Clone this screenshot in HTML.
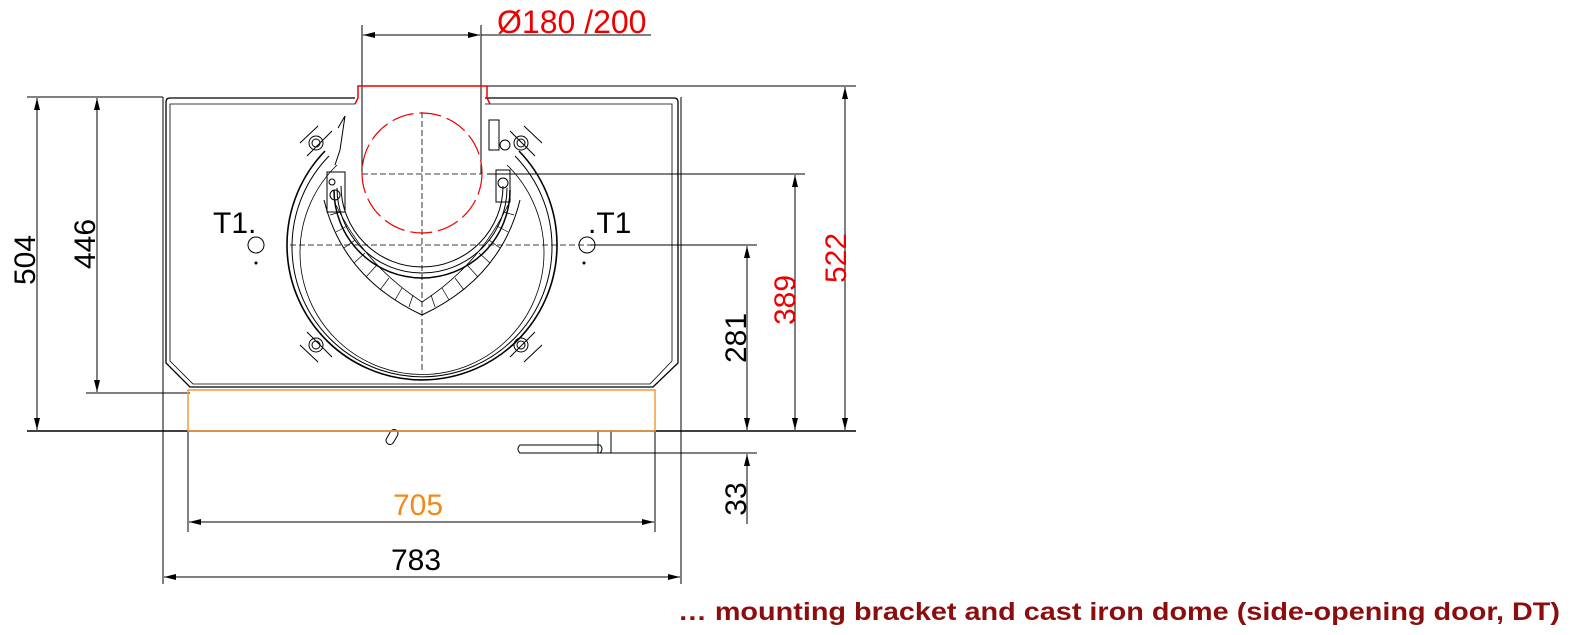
<!DOCTYPE html>
<html><head><meta charset="utf-8"><style>
html,body{margin:0;padding:0;background:#fff;width:1586px;height:635px;overflow:hidden}
svg{display:block}
text{font-family:"Liberation Sans",Arial,sans-serif}
</style></head><body>
<svg width="1586" height="635" viewBox="0 0 1586 635" xmlns="http://www.w3.org/2000/svg">
<defs>
<marker id="a" viewBox="0 0 12 6" refX="12" refY="3" markerWidth="12" markerHeight="6" orient="auto" markerUnits="userSpaceOnUse"><path d="M0,0 L12,3 L0,6 z" fill="#000"/></marker>
<marker id="as" viewBox="0 0 12 6" refX="0" refY="3" markerWidth="12" markerHeight="6" orient="auto" markerUnits="userSpaceOnUse"><path d="M12,0 L0,3 L12,6 z" fill="#000"/></marker>
</defs>
<g stroke="#000" stroke-width="1" fill="none">
<line x1="27" y1="97" x2="163" y2="97"/>
<line x1="86" y1="393" x2="190" y2="393"/>
<line x1="27" y1="431" x2="856" y2="431" stroke-width="1.5"/>
<line x1="487" y1="86" x2="856" y2="86"/>
<line x1="487" y1="174" x2="805" y2="174"/>
<line x1="590" y1="245" x2="757" y2="245"/>
<line x1="520" y1="453" x2="757" y2="453"/>
<line x1="163" y1="97" x2="163" y2="584"/>
<line x1="681" y1="97" x2="681" y2="584"/>
<line x1="188" y1="431" x2="188" y2="532"/>
<line x1="655" y1="431" x2="655" y2="532"/>
<line x1="362" y1="25" x2="362" y2="174"/>
<line x1="481" y1="25" x2="481" y2="174"/>
<line x1="37" y1="98" x2="37" y2="430" marker-start="url(#as)" marker-end="url(#a)"/>
<line x1="97" y1="98" x2="97" y2="392" marker-start="url(#as)" marker-end="url(#a)"/>
<line x1="845" y1="87" x2="845" y2="430" marker-start="url(#as)" marker-end="url(#a)"/>
<line x1="795" y1="175" x2="795" y2="430" marker-start="url(#as)" marker-end="url(#a)"/>
<line x1="747" y1="246" x2="747" y2="430" marker-start="url(#as)" marker-end="url(#a)"/>
<line x1="747" y1="454" x2="747" y2="524" marker-start="url(#as)"/>
<line x1="189" y1="522" x2="654" y2="522" marker-start="url(#as)" marker-end="url(#a)"/>
<line x1="164" y1="577" x2="680" y2="577" marker-start="url(#as)" marker-end="url(#a)"/>
<line x1="363" y1="35" x2="480" y2="35" marker-start="url(#as)" marker-end="url(#a)"/>
<line x1="481" y1="35" x2="651" y2="35"/>
<!-- box -->
<path d="M355,98 L170,98 Q166,98 166,102 L166,363 L190,387 L653,387 L678,363 L678,102 Q678,98 674,98 L485,98" stroke-width="1.3"/>
<path d="M355,104 L170,104 L170,361 L193,384 L650,384 L672,361 L672,104 L485,104" stroke-width="0.8"/>
<path d="M520,445 L600,445 Q604,449 600,453 L520,453 Q516,449 520,445 Z"/>
<line x1="598" y1="431" x2="598" y2="453"/><line x1="611" y1="431" x2="611" y2="453"/>
<g transform="translate(392,437) rotate(-60)"><rect x="-8" y="-4" width="16" height="8" rx="4"/></g>
<path d="M325,151 A135,135 0 1 0 519,151" stroke-width="1.6"/>
<path d="M329,156 A130,130 0 1 0 515,156" stroke-width="1"/>
<path d="M337,165 A122,122 0 1 0 507,165" stroke-width="0.8"/>
<path d="M334,190 A88,88 0 0 0 510,190" stroke-width="1.5"/>
<path d="M337,188 A85,85 0 0 0 507,188" stroke-width="1"/>
<path d="M341,186 A81,81 0 0 0 503,186" stroke-width="1"/>
<path d="M324,200 Q343,278 422,315 Q501,278 520,200" stroke-width="1"/>
<path d="M336,205 Q365,265 422,302 Q479,265 508,205" stroke-width="0.8"/>
<g stroke-width="0.7">
<line x1="330" y1="215" x2="340" y2="212"/><line x1="336" y1="232" x2="347" y2="226"/><line x1="344" y1="248" x2="355" y2="240"/><line x1="354" y1="263" x2="365" y2="253"/><line x1="366" y1="277" x2="376" y2="266"/><line x1="380" y1="290" x2="389" y2="278"/><line x1="395" y1="300" x2="402" y2="288"/><line x1="409" y1="307" x2="413" y2="295"/>
<line x1="514" y1="215" x2="504" y2="212"/><line x1="508" y1="232" x2="497" y2="226"/><line x1="500" y1="248" x2="489" y2="240"/><line x1="490" y1="263" x2="479" y2="253"/><line x1="478" y1="277" x2="468" y2="266"/><line x1="464" y1="290" x2="455" y2="278"/><line x1="449" y1="300" x2="442" y2="288"/><line x1="435" y1="307" x2="431" y2="295"/>
</g>
<g stroke-width="1">
<circle cx="316" cy="143" r="7"/><circle cx="316" cy="143" r="4"/><line x1="300" y1="143" x2="318" y2="126"/><line x1="307" y1="156" x2="332" y2="131"/>
<circle cx="521" cy="143" r="7"/><circle cx="521" cy="143" r="4"/><line x1="542" y1="143" x2="524" y2="126"/><line x1="535" y1="156" x2="510" y2="131"/>
<circle cx="316" cy="345" r="7"/><circle cx="316" cy="345" r="4"/><line x1="300" y1="345" x2="318" y2="362"/><line x1="307" y1="332" x2="332" y2="357"/>
<circle cx="521" cy="345" r="7"/><circle cx="521" cy="345" r="4"/><line x1="542" y1="345" x2="524" y2="362"/><line x1="535" y1="332" x2="510" y2="357"/>
<rect x="327" y="172" width="18" height="40"/><circle cx="335" cy="195" r="5"/><circle cx="332" cy="182" r="3"/>
<rect x="496" y="170" width="14" height="32"/><circle cx="503" cy="183" r="5"/>
<rect x="489" y="120" width="10" height="30"/><circle cx="505" cy="145" r="5"/>
<path d="M338,128 L345,116 L340,150 L335,165"/>
</g>
<circle cx="256" cy="245" r="8"/><circle cx="587" cy="245" r="8"/>
<g stroke-dasharray="6,3" stroke-width="0.8">
<line x1="422" y1="112" x2="422" y2="370"/>
<line x1="290" y1="245" x2="590" y2="245"/>
<line x1="362" y1="174" x2="481" y2="174"/>
</g>
</g>
<g fill="#000"><circle cx="256" cy="263" r="1.5"/><circle cx="584" cy="263" r="1.5"/></g>
<path d="M355,104 L358,98 L358,86 L487,86 L487,98 L490,104" stroke="#e00" stroke-width="1.5" fill="none"/>
<circle cx="422" cy="173" r="60" stroke="#e00" stroke-width="1.2" fill="none" stroke-dasharray="22,6"/>
<rect x="188" y="390" width="467" height="41" stroke="#f39a3c" stroke-width="1.5" fill="none"/>
<g font-size="30">
<text x="497" y="33" fill="#e00" font-size="32">Ø180 /200</text>
<text x="213" y="233">T1.</text>
<text x="588" y="233">.T1</text>
<text x="393" y="515" fill="#f08a1a">705</text>
<text x="391" y="570">783</text>
<text transform="translate(35,260) rotate(-90)" text-anchor="middle">504</text>
<text transform="translate(95,244) rotate(-90)" text-anchor="middle">446</text>
<text transform="translate(846,258) rotate(-90)" text-anchor="middle" fill="#e00">522</text>
<text transform="translate(795,300) rotate(-90)" text-anchor="middle" fill="#e00">389</text>
<text transform="translate(746,338) rotate(-90)" text-anchor="middle">281</text>
<text transform="translate(746,499) rotate(-90)" text-anchor="middle">33</text>
</g>
<text x="678" y="620" font-size="25" font-weight="bold" fill="#8b0d0d" textLength="882" lengthAdjust="spacingAndGlyphs">… mounting bracket and cast iron dome (side-opening door, DT)</text>
</svg>
</body></html>
